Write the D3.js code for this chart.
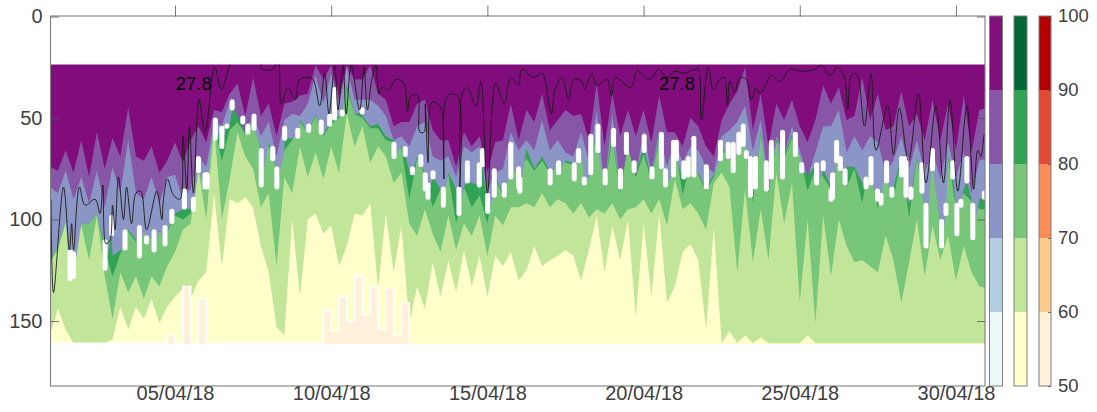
<!DOCTYPE html>
<html><head><meta charset="utf-8">
<script src="https://cdn.jsdelivr.net/npm/d3@7"></script>
<style>
html,body{margin:0;padding:0;background:#fff;overflow:hidden}
text{font-family:"Liberation Sans",Arial,sans-serif}
</style></head><body>
<svg id="c" width="1097" height="412"></svg>
<script>
// time grid: one value every 6 hours, day 1 to day 31 of April 2018
const stepDays = Array.from({length:121},(_,i)=>1+i*0.25);
const bandTop = 23.6, bandBottom = 161.3;

const darkPurpleEnd = [
74,76,66,77,61,79,57,75,60,69,45,69,71,64,77,71,62,72,61,54,
62,46,47,38,33,49,30,49,43,59,43,42,39,38,24,31,24,40,24,31,
31,24,38,41,54,52,52,43,41,56,61,61,74,57,64,59,77,62,61,43,
61,46,52,38,56,51,46,49,48,61,33,64,38,59,46,59,46,62,39,57,
57,64,50,54,64,69,51,43,37,25,56,38,64,43,51,41,54,62,51,34,
43,35,51,49,30,51,38,56,54,37,54,48,61,41,61,43,66,39,67,46,45];
const midPurpleEnd = [
84,87,76,90,79,92,76,94,74,87,61,87,90,79,92,79,78,90,85,69,
74,52,54,42,49,57,49,59,52,69,51,48,49,43,29,43,28,44,25,41,
41,41,44,49,61,59,64,54,52,69,71,69,79,64,67,64,86,77,75,57,
66,61,66,51,66,61,67,69,57,71,46,84,48,84,64,79,56,77,56,74,
61,72,64,66,74,77,59,56,52,44,66,51,82,59,69,54,66,79,67,54,
54,46,67,59,66,59,62,77,71,59,75,61,77,66,80,62,79,67,87,71,70];
const periwinkleEnd = [
120,113,100,108,102,102,97,113,118,115,105,110,105,108,105,105,97,95,95,74,
79,51,56,54,46,54,49,65,62,74,66,60,51,57,48,58,52,49,34,48,
49,54,53,59,61,64,76,69,77,79,85,77,85,84,82,87,93,79,87,75,
74,65,75,69,76,70,71,72,64,79,52,84,55,85,63,77,64,79,57,82,
62,80,71,77,85,78,64,69,67,54,87,56,85,60,69,58,67,78,74,77,
84,61,74,74,82,69,87,72,84,69,92,69,93,67,102,69,93,85,90,90,88];
const darkGreenEnd = [
120,113,100,108,102,102,97,115,128,117,106,111,106,109,106,106,98,100,97,76,
79,54,71,56,52,58,51,66,64,75,66,61,52,57,49,59,53,50,36,48,
50,55,55,61,62,65,90,70,78,94,85,78,102,84,94,88,102,80,88,76,
75,70,76,71,77,71,72,73,66,80,56,85,60,87,64,79,68,81,60,84,
63,88,72,78,86,79,65,70,68,56,92,58,87,62,70,60,68,86,75,79,
85,63,84,75,92,70,95,73,90,70,99,70,94,68,103,70,94,87,91,95,95];
const midGreenEnd = [
121,115,102,109,103,120,98,128,149,126,136,128,139,128,133,123,116,105,102,75,
100,54,100,80,57,69,75,94,87,123,79,87,64,79,67,80,64,77,48,64,
54,72,64,69,82,77,102,108,95,107,116,98,115,102,108,98,118,98,103,94,
94,92,94,87,94,90,92,97,92,99,95,97,92,100,95,94,90,97,90,103,
80,95,92,97,105,82,77,84,126,85,121,95,120,77,102,82,141,100,151,98,
128,100,113,121,120,123,126,108,120,141,121,100,128,103,120,108,130,113,126,133,134];
const lightGreenEnd = [
157,144,154,161,161,161,161,161,159,143,154,143,149,139,151,143,138,134,139,130,
126,87,123,90,92,89,94,113,126,153,157,100,138,100,97,107,103,123,113,97,
98,92,134,97,126,103,151,133,144,121,138,120,136,115,133,118,138,118,123,116,
130,125,113,123,120,118,115,118,130,115,98,126,103,120,100,148,102,138,97,141,
133,116,112,120,154,104,161,155,161,157,161,158,161,161,161,161,161,157,161,161,
161,161,161,161,161,161,161,161,161,161,161,161,161,161,161,161,161,161,161,161,161];
const paleYellowEnd = [
161,161,161,161,161,161,161,161,161,161,161,161,161,161,161,157,161,133,161,139,
161,161,161,161,161,161,161,161,161,161,161,161,161,161,161,145,155,138,150,128,
147,133,154,134,157,141,161];

// white gaps of the coloured field: day, upper edge, lower edge
const gapDays = [1.64,1.75,2.76,2.97,3.40,3.86,4.09,4.33,4.68,4.90,5.30,5.59,5.75,5.96,
6.03,6.29,6.50,6.66,6.83,7.17,7.33,7.53,7.76,8.13,8.26,8.51,8.93,9.28,9.68,9.95,10.11,10.35,10.99,
12.01,12.37,12.60,12.87,13.01,13.10,13.26,13.59,14.09,14.36,14.74,14.84,15.01,15.22,15.54,15.75,16.00,
16.04,17.01,17.28,17.78,17.92,18.10,18.31,18.54,18.77,19.04,19.26,19.45,19.70,20.02,20.27,20.57,20.70,20.96,
21.05,21.29,21.43,21.61,22.01,22.46,22.71,22.87,23.05,23.19,23.29,23.42,23.58,23.93,24.09,24.45,24.86,25.06,25.54,25.75,26.00,
26.05,26.18,26.30,26.45,27.12,27.28,27.49,27.60,27.78,27.95,28.26,28.40,28.56,28.91,29.04,29.25,29.54,29.68,29.90,30.03,30.16,30.35,30.54,30.91];
const gapUpper = [115,116,110,98,105,103,108,105,103,95,85,89,69,77,
77,50,54,53,41,49,53,48,65,64,74,54,55,53,51,48,35,46,45,
62,64,74,68,77,82,76,84,84,71,72,65,87,75,82,62,74,
79,75,71,72,65,79,58,53,75,55,75,57,71,58,74,57,75,61,
61,71,69,59,73,61,62,62,57,53,66,69,69,71,61,56,57,72,72,71,85,
77,61,69,75,79,69,85,87,71,84,69,69,84,72,92,65,100,92,71,92,90,69,92,86];
const gapLower = [130,129,125,108,115,119,112,116,113,102,95,96,77,85,
85,61,65,55,46,53,58,56,84,71,85,61,60,57,58,54,51,49,48,
70,69,78,74,86,90,80,94,98,82,84,74,97,89,89,80,85,
87,83,78,81,72,83,78,67,83,64,85,68,77,67,80,75,84,79,
71,80,79,79,85,71,70,77,68,64,70,89,85,86,80,80,69,77,83,76,91,
90,72,76,83,85,83,91,93,82,89,79,89,90,87,114,76,114,98,80,108,94,82,110,90];

// black line
const lineDays = [1.03,1.11,1.43,1.62,1.69,1.75,1.94,2.12,2.44,2.60,2.69,2.79,2.92,3.00,3.08,3.19,3.35,3.45,3.61,3.75,3.90,4.09,4.42,4.58,4.63,4.76,4.95,5.16,5.25,5.38,5.46,5.59,5.77,5.96,
6.27,6.48,6.75,6.85,7.7,7.8,8.13,8.3,8.4,8.61,8.73,8.86,8.99,9.26,9.42,9.63,9.79,9.93,10.11,10.22,10.38,10.48,10.64,10.91,
11.05,11.16,11.3,11.43,11.53,11.64,11.85,12.07,12.33,12.44,12.55,12.76,12.84,12.97,13.01,13.1,13.19,13.29,13.51,13.61,13.72,14.04,14.12,14.2,14.36,14.63,14.79,15.0,15.27,15.54,15.75,16.0,
16.1,16.48,16.75,17.04,17.17,17.39,17.6,17.76,18.03,18.11,18.35,18.51,18.83,18.97,19.1,19.58,19.79,20.05,20.22,20.48,20.75,21.0,
21.32,21.64,21.75,21.85,22.07,22.23,22.44,22.58,22.69,22.76,22.92,23.08,23.29,23.45,23.61,23.72,23.93,24.09,24.36,24.68,25.06,25.48,25.7,25.96,
26.21,26.43,26.53,26.65,26.77,26.88,27.07,27.28,27.44,27.81,28.0,28.19,28.48,28.8,29.04,29.36,29.6,29.81,30.06,30.35,30.57,30.7,30.8,30.91,30.98];
const lineVals = [90,136,84,115,102,115,84,93,90,97,83,112,110,93,105,79,100,84,102,87,86,105,86,100,90,80,88,90,59,85,54,87,41,57,
25,36,24,20,20,26,26,22,43,35,38,41,31,30,31,44,28,48,24,46,24,48,24,46,
25,46,31,24,38,35,36,31,33,47,39,39,57,57,43,72,43,42,45,80,39,39,84,38,35,44,32,87,33,43,30,34,
26,30,28,48,36,30,41,31,32,36,28,34,31,39,30,35,27,30,31,26,30,27,
28,26,26,51,25,36,31,30,44,32,37,30,31,41,35,38,33,29,32,26,27,26,24,29,
25,30,46,29,28,31,54,28,66,44,68,45,71,38,82,44,82,41,86,44,85,66,69,58,64];

// label of the line
const noteDays = [5.6,21.07];
const noteDepths = [33.7,33.7];
const noteTexts = ["27.8","27.8"];

// axes
const xTickDays = [5,10,15,20,25,30];
const xTickLabels = ["05/04/18","10/04/18","15/04/18","20/04/18","25/04/18","30/04/18"];
const yTicks = [0,50,100,150];
const colourEdges = [50,60,70,80,90,100];
const purpleRamp = ["#edf8fb","#b3cde3","#8c96c6","#8856a7","#810f7c"];
const greenRamp = ["#ffffcc","#c2e699","#78c679","#31a354","#006837"];
const redRamp = ["#fef0d9","#fdcc8a","#fc8d59","#e34a33","#b30000"];

const toDate = d => new Date(Date.UTC(2018,3,1)+(d-1)*864e5);
const svg = d3.select("#c");
const L=51,R=985,T=16.5,B=386;
const x = d3.scaleUtc().domain([toDate(1.03),toDate(30.93)]).range([L,R]);
const y = d3.scaleLinear().domain([0,182]).range([T,B]);
const axisCol="#7f7f7f", textCol="#404040";

const defs = svg.append("defs");
defs.append("clipPath").attr("id","band").append("rect")
 .attr("x",L).attr("width",R-L).attr("y",y(bandTop)).attr("height",y(bandBottom)-y(bandTop));
defs.append("filter").attr("id","soft").attr("x","-2%").attr("y","-5%").attr("width","104%").attr("height","110%")
 .append("feGaussianBlur").attr("stdDeviation",0.7);
const field = svg.append("g").attr("clip-path","url(#band)").append("g").attr("filter","url(#soft)");

// green stack, painted downward from each boundary
const fillDown = (vals,col)=>{
  const a=d3.area().x((d,i)=>x(toDate(stepDays[i]))).y0(y(bandBottom)+4).y1(d=>y(d));
  field.append("path").datum(vals).attr("d",a).attr("fill",col);
};
field.append("rect").attr("x",L-5).attr("width",R-L+10).attr("y",y(bandTop)-4).attr("height",y(bandBottom)-y(bandTop)+8).attr("fill",greenRamp[3]);
fillDown(darkGreenEnd,greenRamp[2]);
fillDown(midGreenEnd,greenRamp[1]);
fillDown(lightGreenEnd,greenRamp[0]);

// pale field at the bottom with its white rim
const rimLine = d3.line().x((d,i)=>x(toDate(stepDays[i]))).y(d=>y(d)).curve(d3.curveStepAfter);
const rimArea = d3.area().x((d,i)=>x(toDate(stepDays[i]))).y0(y(bandBottom)+4).y1(d=>y(d)).curve(d3.curveStepAfter);
field.append("path").datum(paleYellowEnd).attr("d",rimArea).attr("fill",redRamp[0]);
field.append("path").datum(paleYellowEnd).attr("d",rimLine).attr("fill","none").attr("stroke","#fff").attr("stroke-width",1.6);

// purple stack, painted from the top of the band; the periwinkle edge dips at every gap
const edgeKnots = d3.sort(
  stepDays.map((d,i)=>[d,periwinkleEnd[i]]).concat(gapDays.map((d,i)=>[d,gapLower[i]-1])),
  k=>k[0]);
const fillFromTop = (knots,col)=>{
  const a=d3.area().x(k=>x(toDate(k[0]))).y0(y(bandTop)-4).y1(k=>y(k[1]));
  field.append("path").datum(knots).attr("d",a).attr("fill",col);
};
fillFromTop(edgeKnots,purpleRamp[2]);
fillFromTop(stepDays.map((d,i)=>[d,midPurpleEnd[i]]),purpleRamp[3]);
fillFromTop(stepDays.map((d,i)=>[d,darkPurpleEnd[i]]),purpleRamp[4]);

// white gaps
field.selectAll("line.gap").data(gapDays).join("line").attr("class","gap")
 .attr("x1",d=>x(toDate(d))).attr("x2",d=>x(toDate(d)))
 .attr("y1",(d,i)=>y(gapUpper[i])+2).attr("y2",(d,i)=>y(gapLower[i])-2)
 .attr("stroke","#fff").attr("stroke-width",5).attr("stroke-linecap","round");

// black line, kept crisp above the softened field
const lineGen = d3.line().x(d=>x(toDate(d))).y((d,i)=>y(lineVals[i])).curve(d3.curveCatmullRom.alpha(0.5));
svg.append("g").attr("clip-path","url(#band)").append("path").datum(lineDays).attr("d",lineGen)
 .attr("fill","none").attr("stroke","#1a1a1a").attr("stroke-width",0.9);

svg.selectAll("text.note").data(noteTexts).join("text").attr("class","note")
 .attr("x",(d,i)=>x(toDate(noteDays[i]))).attr("y",(d,i)=>y(noteDepths[i]))
 .attr("text-anchor","middle").attr("dominant-baseline","middle")
 .attr("font-size",18.5).attr("fill","#000").text(d=>d);

// frame
svg.append("rect").attr("x",L-.5).attr("y",T-.5).attr("width",R-L+.5).attr("height",B-T+.5)
 .attr("fill","none").attr("stroke",axisCol).attr("stroke-width",1.1);

const styleAxis = g=>{
  g.select(".domain").remove();
  g.selectAll("line").attr("stroke","#555").attr("stroke-width",0.8);
  g.selectAll("text").attr("font-size",20).attr("fill",textCol).style("font-family",'"Liberation Sans",Arial,sans-serif');
};
const tickDates = xTickDays.map(toDate);
svg.append("g").attr("transform",`translate(0,${T})`)
 .call(d3.axisTop(x).tickValues(tickDates).tickFormat("").tickSize(11)).call(styleAxis);
svg.append("g").attr("transform",`translate(0,${B})`)
 .call(d3.axisBottom(x).tickValues(tickDates).tickFormat((d,i)=>xTickLabels[i]).tickSize(0).tickPadding(0)).call(styleAxis);
svg.append("g").attr("transform",`translate(${L},0)`)
 .call(d3.axisLeft(y).tickValues(yTicks).tickSize(-8).tickPadding(8.5)).call(styleAxis);
svg.append("g").attr("transform",`translate(${R},0)`)
 .call(d3.axisRight(y).tickValues(yTicks).tickFormat("").tickSize(-8)).call(styleAxis);

// colour bars
const c = d3.scaleLinear().domain([50,100]).range([386,16]);
[[989.5,13,purpleRamp],[1014,13,greenRamp],[1039,12,redRamp]].forEach(([bx,bw,ramp])=>{
  const g=svg.append("g");
  g.selectAll("rect").data(ramp).join("rect").attr("x",bx).attr("width",bw)
   .attr("y",(d,i)=>c(colourEdges[i+1])).attr("height",(d,i)=>c(colourEdges[i])-c(colourEdges[i+1])).attr("fill",d=>d);
  g.append("rect").attr("x",bx).attr("width",bw).attr("y",16).attr("height",370).attr("fill","none").attr("stroke",axisCol).attr("stroke-width",1);
});
svg.append("g").attr("transform","translate(1051,0)")
 .call(d3.axisRight(c).tickValues(colourEdges).tickSize(-3).tickPadding(7)).call(styleAxis)
 .selectAll("text").attr("font-size",18.5);
</script>
</body></html>
